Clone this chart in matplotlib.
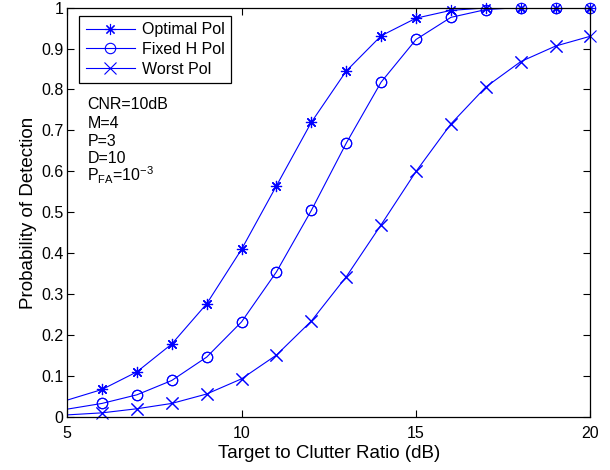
import matplotlib
matplotlib.use('Agg')
import matplotlib.pyplot as plt
from matplotlib.ticker import FixedLocator

plt.rcParams['font.family'] = ['Liberation Sans', 'DejaVu Sans']
plt.rcParams['mathtext.fontset'] = 'custom'
plt.rcParams['mathtext.rm'] = 'Liberation Sans'
plt.rcParams['mathtext.it'] = 'Liberation Sans'

# 목표 대 클러터 비 (dB)
tcr = [5, 6, 7, 8, 9, 10, 11, 12, 13, 14, 15, 16, 17, 18, 19, 20]

# 검출 확률
pd_optimal = [0.042, 0.068, 0.111, 0.179, 0.277, 0.41, 0.565, 0.72, 0.845, 0.931,
              0.974, 0.993, 0.999, 1.0, 1.0, 1.0]
pd_fixed_h = [0.020, 0.034, 0.055, 0.090, 0.147, 0.233, 0.355, 0.505, 0.669, 0.818,
              0.922, 0.976, 0.995, 1.0, 1.0, 1.0]
pd_worst = [0.006, 0.011, 0.021, 0.034, 0.057, 0.094, 0.152, 0.235, 0.343, 0.470,
            0.600, 0.716, 0.806, 0.868, 0.906, 0.930]

# MATLAB 스타일 '*' = 8갈래 별표
series = [
    ('Optimal Pol', pd_optimal, (8, 2, 0), 8),
    ('Fixed H Pol', pd_fixed_h, 'o', 7.5),
    ('Worst Pol', pd_worst, 'x', 8),
]

fig = plt.figure(figsize=(6.1, 4.7), dpi=100)
ax = fig.add_axes([0.110, 0.112, 0.858, 0.872])

for label, vals, mk, ms in series:
    # 선은 축 안에서 잘리고, 첫 점(x=5)에는 마커를 두지 않음
    ax.plot(tcr, vals, color='blue', linewidth=0.8, marker=mk, markersize=ms,
            markerfacecolor='none', markeredgewidth=0.8, markevery=slice(1, None),
            label=label)
    ax.plot(tcr[1:], vals[1:], linestyle='none', color='blue', marker=mk,
            markersize=ms, markerfacecolor='none', markeredgewidth=0.8, clip_on=False)

ax.set_xlim(5, 20)
ax.set_ylim(0, 1)
ax.xaxis.set_major_locator(FixedLocator([5, 10, 15, 20]))
ax.yaxis.set_major_locator(FixedLocator([i / 10 for i in range(11)]))
ax.set_yticklabels(['0'] + ['%.1f' % (i / 10) for i in range(1, 10)] + ['1'])
ax.tick_params(direction='in', top=True, right=True, length=5, width=0.8,
               labelsize=11.5)
ax.tick_params(axis='x', pad=6)
ax.tick_params(axis='y', pad=2.5)
for sp in ax.spines.values():
    sp.set_linewidth(0.9)

ax.set_xlabel('Target to Clutter Ratio (dB)', fontsize=13.5, labelpad=3)
ax.set_ylabel('Probability of Detection', fontsize=13.5, labelpad=3)

leg = ax.legend(loc='upper left', bbox_to_anchor=(0.023, 0.98), fontsize=11.5,
                frameon=True, fancybox=False, edgecolor='black', framealpha=1,
                borderpad=0.4, labelspacing=0.3, handlelength=3.1,
                handletextpad=0.45, borderaxespad=0)
leg.get_frame().set_linewidth(0.9)

info = ['CNR=10dB', 'M=4', 'P=3', 'D=10', r'$\mathrm{P_{FA}}$=10$^{-3}$']
info_y = [0.764, 0.717, 0.674, 0.632, 0.59]
for txt, yy in zip(info, info_y):
    ax.text(5.58, yy, txt, fontsize=11.5, va='center', ha='left')

fig.savefig('out.png', dpi=100)
